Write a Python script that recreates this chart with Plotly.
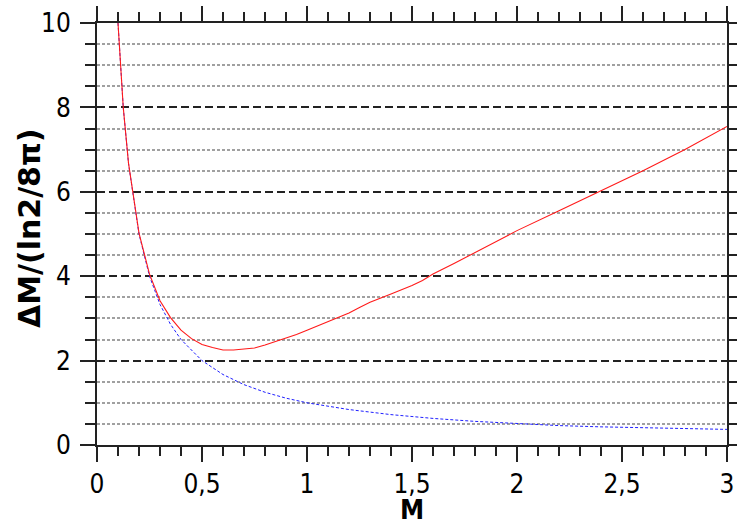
import plotly.graph_objects as go

# valores
m_vermelho = [0.1, 0.125, 0.15, 0.2, 0.25, 0.3, 0.35, 0.4, 0.45, 0.5, 0.55, 0.6, 0.65,
              0.7, 0.75, 0.8, 0.85, 0.9, 0.95, 1.0, 1.1, 1.2, 1.25, 1.3, 1.4, 1.5, 1.55,
              1.6, 1.7, 1.8, 1.9, 2.0, 2.2, 2.4, 2.6, 2.8, 3.0]
dm_vermelho = [10.0, 8.0, 6.68, 5.02, 4.05, 3.42, 3.02, 2.72, 2.52, 2.38, 2.31, 2.25, 2.25,
               2.28, 2.30, 2.37, 2.45, 2.53, 2.62, 2.72, 2.93, 3.13, 3.26, 3.38, 3.58, 3.78, 3.90,
               4.05, 4.30, 4.56, 4.83, 5.08, 5.55, 6.02, 6.50, 7.00, 7.55]

m_azul = [0.1, 0.125, 0.15, 0.2, 0.25, 0.3, 0.35, 0.4, 0.5, 0.6, 0.7, 0.8, 0.9, 1.0,
          1.2, 1.4, 1.6, 1.8, 2.0, 2.2, 2.4, 2.6, 2.8, 3.0]
dm_azul = [10.0, 8.0, 6.67, 5.0, 4.0, 3.33, 2.86, 2.5, 2.0, 1.67, 1.43, 1.25, 1.11, 1.0,
           0.84, 0.72, 0.63, 0.56, 0.51, 0.46, 0.43, 0.41, 0.38, 0.37]

fonte = "DejaVu Sans Condensed, DejaVu Sans, sans-serif"
eixo = "#222222"

fig = go.Figure()
fig.add_trace(go.Scatter(x=m_azul, y=dm_azul, mode="lines",
                         line=dict(color="#2020ff", width=1, dash="3px,2px")))
fig.add_trace(go.Scatter(x=m_vermelho, y=dm_vermelho, mode="lines",
                         line=dict(color="#ff1a1a", width=1.1)))

fig.update_layout(
    width=737, height=519,
    margin=dict(l=97, r=10, t=23, b=74),
    plot_bgcolor="white", paper_bgcolor="white",
    showlegend=False,
    separators=", ",
    font=dict(family=fonte, size=26, color="black"),
)

fig.update_xaxes(
    range=[0, 3], dtick=0.5, tick0=0, automargin=False,
    showline=True, linecolor=eixo, linewidth=2, mirror="allticks",
    ticks="outside", ticklen=15, tickwidth=2, tickcolor=eixo,
    showgrid=False, zeroline=False,
    minor=dict(dtick=0.1, ticks="outside", ticklen=9, tickwidth=2, tickcolor=eixo, showgrid=False),
)
fig.update_yaxes(
    range=[0, 10], dtick=2, tick0=0, automargin=False,
    showline=True, linecolor=eixo, linewidth=2, mirror="allticks",
    ticks="outside", ticklen=15, tickwidth=2, tickcolor=eixo, ticklabelstandoff=4,
    showgrid=True, gridcolor="#222222", griddash="8px,4px", gridwidth=1.5,
    zeroline=False,
    minor=dict(dtick=0.5, ticks="outside", ticklen=10, tickwidth=2, tickcolor=eixo,
               showgrid=True, gridcolor="#a0a0a0", griddash="3px,2px", gridwidth=1.5),
)

# títulos dos eixos como anotações, para controlar a posição
fig.add_annotation(
    text="<b>ΔM/(ln2/8π)</b>", textangle=-90, showarrow=False,
    xref="paper", yref="paper", x=0, y=0.514, xanchor="center", yanchor="middle",
    xshift=-68, font=dict(family="DejaVu Sans", size=30, color="black"),
)
fig.add_annotation(
    text="<b>M</b>", showarrow=False,
    xref="paper", yref="paper", x=0.5, y=-0.142, xanchor="center", yanchor="middle",
    yshift=-5, font=dict(size=27, color="black"),
)

# tira a margem padrão do body para a figura ocupar a janela inteira
fig.write_html("out.html", config={"displayModeBar": False},
               post_script="document.body.style.margin = '0';")
